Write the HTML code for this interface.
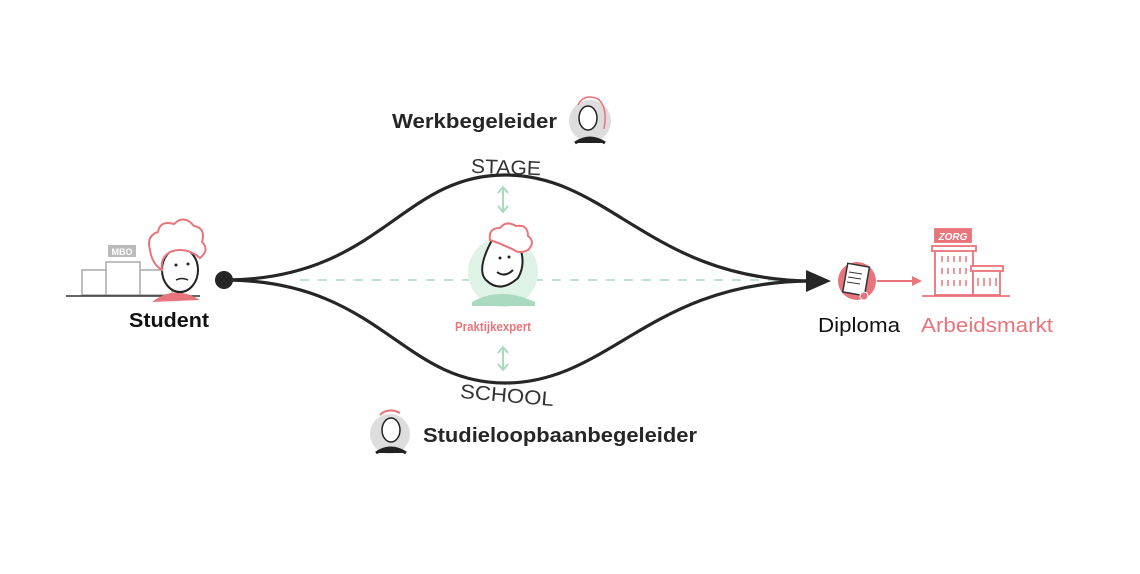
<!DOCTYPE html>
<html><head><meta charset="utf-8"><style>
html,body{margin:0;padding:0;background:#fff;width:1140px;height:574px;overflow:hidden}
svg{display:block}
text{font-family:"Liberation Sans",sans-serif}
</style></head><body>
<svg width="1140" height="574" viewBox="0 0 1140 574">
<defs>
<marker id="ar" markerWidth="10" markerHeight="10" refX="8" refY="5" orient="auto" markerUnits="userSpaceOnUse"><path d="M0,0 L10,5 L0,10z" fill="#e8757b"/></marker>
</defs>
<line x1="300" y1="280" x2="810" y2="280" stroke="#a9d9bf" stroke-width="1.5" stroke-dasharray="9,9"/>
<path d="M224,280 C380,280 400,175 505,175 C610,175 650,280 812,281" fill="none" stroke="#262626" stroke-width="3.2"/>
<path d="M224,280 C380,280 400,383 505,383 C610,383 650,281 812,281" fill="none" stroke="#262626" stroke-width="3.2"/>
<path d="M806,270 L831,281 L806,292z" fill="#262626"/>
<circle cx="224" cy="280" r="9" fill="#262626"/>
<g stroke="#a9d9bf" stroke-width="2" fill="none">
<line x1="503" y1="188" x2="503" y2="211"/><path d="M498,193 L503,187 L508,193 M498,206 L503,212 L508,206"/>
<line x1="503" y1="348" x2="503" y2="369"/><path d="M498,353 L503,347 L508,353 M498,364 L503,370 L508,364"/>
</g>
<text x="471" y="174" font-size="20" fill="#333" textLength="70" lengthAdjust="spacingAndGlyphs" transform="rotate(2 505 166)">STAGE</text>
<text x="460" y="402" font-size="20" fill="#333" textLength="94" lengthAdjust="spacingAndGlyphs" transform="rotate(5 507 395)">SCHOOL</text>
<text x="392" y="128" font-size="20" font-weight="bold" fill="#262626" textLength="165" lengthAdjust="spacingAndGlyphs">Werkbegeleider</text>
<text x="423" y="442" font-size="20" font-weight="bold" fill="#262626" textLength="274" lengthAdjust="spacingAndGlyphs">Studieloopbaanbegeleider</text>
<text x="129" y="327" font-size="20" font-weight="bold" fill="#111" textLength="80" lengthAdjust="spacingAndGlyphs">Student</text>
<text x="455" y="331" font-size="13" font-weight="bold" fill="#e8757b" textLength="76" lengthAdjust="spacingAndGlyphs">Praktijkexpert</text>
<text x="818" y="332" font-size="20" fill="#111" textLength="82" lengthAdjust="spacingAndGlyphs">Diploma</text>
<text x="921" y="332" font-size="20" fill="#e8757b" textLength="132" lengthAdjust="spacingAndGlyphs">Arbeidsmarkt</text>
<g stroke="#aaa" stroke-width="1.5" fill="#fff">
<rect x="108" y="245" width="28" height="12" fill="#bbb" stroke="none"/>
<rect x="82" y="270" width="90" height="25"/>
<rect x="106" y="262" width="34" height="33"/>
<line x1="66" y1="296" x2="200" y2="296" stroke="#333"/>
</g>
<text x="122" y="255" font-size="9" font-weight="bold" fill="#fff" text-anchor="middle">MBO</text>
<path d="M152,302 Q175,284 200,300 Z" fill="#e8757b"/>
<ellipse cx="180" cy="270" rx="18" ry="22" fill="#fff" stroke="#222" stroke-width="2"/>
<path d="M150,250 q-4,-14 8,-18 q2,-12 16,-8 q10,-10 20,2 q12,2 8,16 q8,8 -2,16 q-14,-12 -30,-6 q-10,6 -8,18 q-10,-6 -12,-20z" fill="#fff" stroke="#e8757b" stroke-width="2"/>
<circle cx="176" cy="265" r="1.5" fill="#222"/><circle cx="188" cy="264" r="1.5" fill="#222"/>
<path d="M176,280 q6,-3 12,0" fill="none" stroke="#222" stroke-width="1.5"/>
<circle cx="503" cy="272" r="35" fill="#dff2e6"/>
<path d="M472,302 Q500,286 535,302 L535,306 L472,306z" fill="#a9d9bf"/>
<path d="M492,240 Q476,270 486,280 Q500,294 518,278 Q526,264 520,248 Z" fill="#fff" stroke="#222" stroke-width="2"/>
<circle cx="500" cy="258" r="1.5" fill="#222"/><circle cx="509" cy="257" r="1.5" fill="#222"/>
<path d="M497,272 q8,6 16,-2" fill="none" stroke="#222" stroke-width="2"/>
<path d="M490,240 q-2,-12 10,-12 q6,-8 16,-2 q12,-2 12,10 q8,6 0,14 q-8,4 -14,0 q-12,-6 -24,-10z" fill="#fff" stroke="#e8757b" stroke-width="2"/>
<circle cx="590" cy="121" r="21" fill="#ddd"/>
<path d="M578,105 q6,-12 20,-6 q10,8 6,30" fill="none" stroke="#e8757b" stroke-width="1.5"/>
<ellipse cx="588" cy="118" rx="9" ry="12" fill="#fff" stroke="#222" stroke-width="1.5"/>
<path d="M575,143 q15,-10 30,0" fill="#222" stroke="#222" stroke-width="3"/>
<circle cx="390" cy="434" r="20" fill="#ddd"/>
<path d="M380,415 q8,-8 20,-2" fill="none" stroke="#e8757b" stroke-width="2"/>
<ellipse cx="391" cy="430" rx="9" ry="12" fill="#fff" stroke="#222" stroke-width="1.5"/>
<path d="M376,453 q15,-10 30,0" fill="#222" stroke="#222" stroke-width="3"/>
<circle cx="857" cy="281" r="19" fill="#e8757b"/>
<rect x="845" y="265" width="22" height="29" fill="#fff" stroke="#333" stroke-width="1.5" transform="rotate(10 856 280)"/>
<g stroke="#333" stroke-width="1"><line x1="849" y1="272" x2="862" y2="274"/><line x1="848" y1="277" x2="861" y2="279"/><line x1="847" y1="282" x2="860" y2="284"/></g>
<circle cx="864" cy="296" r="4" fill="#e8757b" stroke="#fff"/>
<line x1="877" y1="281" x2="920" y2="281" stroke="#e8757b" stroke-width="2" marker-end="url(#ar)"/>
<g stroke="#e8757b" stroke-width="1.8" fill="#fff">
<rect x="935" y="229" width="36" height="13" fill="#e8757b"/>
<rect x="935" y="249" width="38" height="46"/>
<rect x="932" y="246" width="44" height="5"/>
<rect x="973" y="270" width="27" height="25"/>
<rect x="971" y="266" width="32" height="5"/>
<line x1="922" y1="296" x2="1010" y2="296"/>
</g>
<text x="953" y="240" font-size="10" font-weight="bold" fill="#fff" text-anchor="middle" font-style="italic">ZORG</text>
<g stroke="#e8757b" stroke-width="1.5">
<path d="M942,256v6M948,256v6M954,256v6M960,256v6M966,256v6M942,268v6M948,268v6M954,268v6M960,268v6M966,268v6M942,280v6M948,280v6M954,280v6M960,280v6M966,280v6M978,278v8M984,278v8M990,278v8M996,278v8"/>
</g>
</svg>
</body></html>
